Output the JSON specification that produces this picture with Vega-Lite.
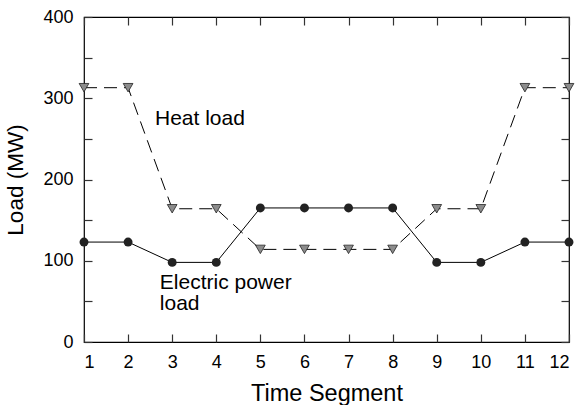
{
  "$schema": "https://vega.github.io/schema/vega-lite/v6.json",
  "width": 485,
  "height": 325,
  "autosize": "none",
  "padding": {"left": 84, "top": 17, "right": 11, "bottom": 63},
  "background": "white",
  "config": {
    "view": {"stroke": "black", "strokeWidth": 1.2},
    "font": "Liberation Sans",
    "axis": {"grid": false, "domain": false, "tickColor": "#333", "labelColor": "black", "titleColor": "black", "labelFont": "Liberation Sans", "titleFont": "Liberation Sans", "titleFontWeight": "normal", "labelFontSize": 18, "titleFontSize": 22.5, "tickSize": -8, "tickWidth": 1.2}
  },
  "resolve": {"axis": {"x": "independent", "y": "independent"}},
  "datasets": {
    "loads": [
      {"t": 1, "load": 123, "series": "Electric"},
      {"t": 2, "load": 123, "series": "Electric"},
      {"t": 3, "load": 98, "series": "Electric"},
      {"t": 4, "load": 98, "series": "Electric"},
      {"t": 5, "load": 165, "series": "Electric"},
      {"t": 6, "load": 165, "series": "Electric"},
      {"t": 7, "load": 165, "series": "Electric"},
      {"t": 8, "load": 165, "series": "Electric"},
      {"t": 9, "load": 98, "series": "Electric"},
      {"t": 10, "load": 98, "series": "Electric"},
      {"t": 11, "load": 123, "series": "Electric"},
      {"t": 12, "load": 123, "series": "Electric"},
      {"t": 1, "load": 313, "series": "Heat"},
      {"t": 2, "load": 313, "series": "Heat"},
      {"t": 3, "load": 164, "series": "Heat"},
      {"t": 4, "load": 164, "series": "Heat"},
      {"t": 5, "load": 114, "series": "Heat"},
      {"t": 6, "load": 114, "series": "Heat"},
      {"t": 7, "load": 114, "series": "Heat"},
      {"t": 8, "load": 114, "series": "Heat"},
      {"t": 9, "load": 164, "series": "Heat"},
      {"t": 10, "load": 164, "series": "Heat"},
      {"t": 11, "load": 313, "series": "Heat"},
      {"t": 12, "load": 313, "series": "Heat"}
    ],
    "labels": [
      {"t": 2.61, "load": 274, "text": "Heat load"},
      {"t": 2.72, "load": 73, "text": "Electric power"},
      {"t": 2.72, "load": 47, "text": "load"}
    ]
  },
  "encoding": {
    "x": {"field": "t", "type": "quantitative", "scale": {"domain": [1, 12], "nice": false, "zero": false}, "axis": null},
    "y": {"field": "load", "type": "quantitative", "scale": {"domain": [0, 400], "nice": false}, "axis": null}
  },
  "layer": [
    {
      "data": {"name": "loads"},
      "transform": [{"filter": "datum.series === 'Heat'"}],
      "mark": {"type": "line", "color": "black", "strokeWidth": 1, "strokeDash": [13, 7]},
      "encoding": {
        "x": {"field": "t", "type": "quantitative", "axis": {"title": "Time Segment", "values": [1,2,3,4,5,6,7,8,9,10,11,12], "labelPadding": 19, "titlePadding": 10, "titleFontSize": 23.5}},
        "y": {"field": "load", "type": "quantitative", "axis": {"title": "Load (MW)", "values": [0,50,100,150,200,250,300,350,400], "labelExpr": "datum.value % 100 === 0 ? datum.label : ''", "labelPadding": 19, "titlePadding": 15}}
      }
    },
    {
      "data": {"name": "loads"},
      "transform": [{"filter": "datum.series === 'Electric'"}],
      "mark": {"type": "line", "color": "black", "strokeWidth": 1},
      "encoding": {
        "x": {"field": "t", "type": "quantitative", "axis": {"orient": "top", "title": null, "labels": false, "values": [1,2,3,4,5,6,7,8,9,10,11,12]}},
        "y": {"field": "load", "type": "quantitative", "axis": {"orient": "right", "title": null, "labels": false, "values": [0,50,100,150,200,250,300,350,400]}}
      }
    },
    {
      "data": {"name": "loads"},
      "transform": [{"filter": "datum.series === 'Heat'"}],
      "mark": {"type": "point", "shape": "triangle-down", "filled": true, "fill": "#8c8c8c", "stroke": "#222", "strokeWidth": 0.8, "size": 95, "opacity": 1}
    },
    {
      "data": {"name": "loads"},
      "transform": [{"filter": "datum.series === 'Electric'"}],
      "mark": {"type": "circle", "color": "#222", "size": 80, "opacity": 1}
    },
    {
      "data": {"name": "labels"},
      "mark": {"type": "text", "align": "left", "baseline": "middle", "fontSize": 21, "font": "Liberation Sans", "color": "black"},
      "encoding": {"text": {"field": "text", "type": "nominal"}}
    }
  ]
}
